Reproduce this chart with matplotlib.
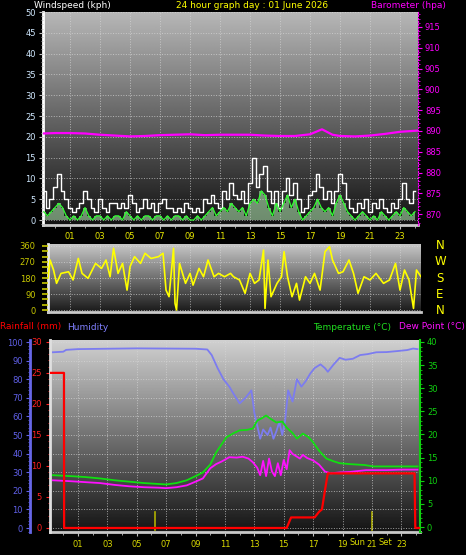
import numpy as np
import matplotlib.pyplot as plt
from matplotlib.ticker import MultipleLocator
import matplotlib.transforms as mtrans

W, H = 466, 555

# ---- wind (kph), every 15 min
wind_t = np.arange(-0.75, 24.01, 0.25)
gust = [7, 3, 5, 8, 11, 7, 5, 3, 2, 3, 4, 7, 5, 3, 2, 5, 3, 2, 4, 4,
        3, 4, 3, 6, 4, 2, 3, 5, 3, 4, 2, 4, 5, 3, 3, 2, 3, 2, 4, 3,
        2, 3, 2, 5, 4, 6, 4, 3, 7, 5, 9, 6, 5, 7, 4, 9, 15, 8, 11, 13,
        7, 4, 7, 3, 7, 10, 6, 9, 5, 2, 3, 6, 7, 11, 8, 5, 7, 4, 7, 11,
        9, 5, 3, 2, 4, 3, 5, 2, 4, 3, 5, 3, 2, 4, 3, 5, 9, 5, 4, 7]
avg = [2, 1, 2, 3, 4, 3, 1, 0, 1, 0, 1, 3, 1, 0, 1, 1, 0, 1, 0, 1,
       1, 0, 2, 1, 0, 1, 0, 1, 1, 0, 1, 1, 0, 1, 0, 1, 1, 0, 1, 0,
       0, 1, 0, 1, 2, 3, 1, 2, 3, 2, 4, 3, 2, 3, 1, 4, 5, 4, 7, 6,
       3, 1, 4, 2, 4, 6, 3, 5, 2, 0, 1, 2, 3, 5, 3, 2, 3, 1, 4, 6,
       4, 2, 1, 0, 1, 2, 1, 0, 1, 0, 2, 1, 0, 1, 2, 1, 3, 2, 1, 2]

# ---- barometer (hPa)
baro_t = [-0.8, 0, 1, 2, 3, 4, 5, 6, 7, 8, 9, 10, 11, 12, 13, 14, 15, 16, 17,
          17.8, 18.5, 19, 20, 21, 22, 23, 24.2]
baro = [889.4, 889.5, 889.5, 889.4, 889.1, 888.9, 888.7, 888.8, 889.0, 889.1,
        889.2, 889.0, 889.1, 889.1, 889.1, 888.9, 888.8, 888.8, 889.2,
        890.4, 889.1, 888.8, 888.7, 888.9, 889.3, 889.8, 890.1]

# ---- wind direction (deg)
dir_t = [-0.47, -0.33, -0.1, 0.1, 0.4, 0.9, 1.2, 1.55, 1.8, 2.2, 2.7, 3.1, 3.4,
         3.67, 3.9, 4.2, 4.5, 4.8, 5.0, 5.3, 5.7, 6.0, 6.4, 6.9, 7.2, 7.4, 7.6,
         7.9, 8.0, 8.1, 8.3, 8.7, 9.0, 9.2, 9.6, 9.9, 10.2, 10.6, 10.9, 11.3,
         11.7, 11.9, 12.3, 12.67, 13.0, 13.3, 13.6, 13.9, 14.0, 14.2, 14.4,
         14.8, 15.1, 15.27, 15.5, 15.8, 16.1, 16.3, 16.7, 17.0, 17.3, 17.67,
         18.0, 18.3, 18.5, 18.9, 19.2, 19.6, 19.9, 20.2, 20.6, 21.0, 21.4,
         21.9, 22.3, 22.7, 23.0, 23.3, 23.6, 23.9, 24.1, 24.4]
wdir = [180, 281, 225, 150, 206, 215, 169, 290, 206, 178, 262, 234, 281,
        187, 347, 206, 262, 112, 244, 300, 262, 319, 290, 300, 319, 112, 75,
        347, 37, 0, 262, 150, 206, 140, 234, 187, 281, 187, 206, 187,
        206, 187, 169, 94, 206, 150, 169, 337, 9, 281, 75,
        150, 187, 328, 187, 75, 150, 56, 187, 150, 206, 112,
        328, 356, 281, 206, 215, 281, 206, 94, 187, 169, 206,
        150, 169, 262, 112, 225, 169, 9, 225, 187]

# ---- humidity (%)
hum_t = [-0.7, 0.0, 0.2, 1, 3, 5, 7, 9, 9.8, 10.1, 10.5, 10.9, 11.3, 11.6, 12.0,
         12.4, 12.8, 13.0, 13.2, 13.4, 13.6, 13.9, 14.1, 14.3, 14.5, 14.7, 14.9,
         15.1, 15.3, 15.6, 15.9, 16.2, 16.5, 16.8, 17.1, 17.5, 17.8, 18.0, 18.4,
         18.8, 19.2, 19.7, 20.2, 20.7, 21.3, 22.0, 22.8, 23.4, 23.8, 24.1]
hum = [94.5, 94.8, 95.8, 96.2, 96.4, 96.6, 96.5, 96.4, 96.0, 93, 86, 80, 76, 72,
       67, 70, 74, 62, 55, 48, 53, 50, 54, 48, 52, 57, 50, 58, 74, 68, 80, 76,
       79, 83, 86, 88, 86, 84, 88, 91.5, 90.5, 91, 93, 93.5, 94.5, 94.6, 95.2,
       95.7, 96.5, 96.2]

# ---- temperature / dew point (C)
temp_t = [-0.7, 0.5, 1.5, 2.5, 3.5, 4.5, 5.5, 6.5, 7.0, 7.7, 8.4, 9.0, 9.5, 10.0,
          10.4, 10.8, 11.1, 11.6, 12.0, 12.5, 12.9, 13.2, 13.5, 13.8, 14.1, 14.5,
          14.9, 15.2, 15.6, 15.9, 16.3, 16.7, 17.0, 17.4, 17.9, 18.4, 18.8, 19.5,
          20.5, 21.1, 22.0, 23.0, 24.1]
temp = [11.2, 11.0, 10.8, 10.5, 10.1, 9.8, 9.5, 9.3, 9.2, 9.5, 10.1, 11.0, 11.8,
        13.5, 16.1, 18.0, 19.4, 20.3, 20.9, 21.0, 21.3, 23.0, 23.5, 24.1, 23.4,
        22.6, 22.8, 21.5, 20.3, 19.1, 20.2, 19.4, 18.3, 16.5, 14.8, 14.2, 13.8,
        13.6, 13.4, 13.1, 13.1, 13.1, 13.1]
dew_t = [-0.7, 0.5, 1.5, 2.5, 3.5, 4.5, 5.5, 6.5, 7.0, 7.7, 8.4, 9.0, 9.5, 10.0,
         10.4, 10.8, 11.3, 11.8, 12.2, 12.6, 12.9, 13.2, 13.4, 13.6, 13.8, 14.0,
         14.2, 14.4, 14.6, 14.8, 15.0, 15.2, 15.4, 15.6, 15.9, 16.1, 16.3, 16.6,
         17.0, 17.4, 17.8, 18.2, 18.8, 19.5, 20.6, 22.0, 23.0, 24.1]
dew = [10.1, 9.9, 9.7, 9.5, 9.1, 8.8, 8.6, 8.5, 8.4, 8.6, 9.0, 9.8, 10.5, 12.7,
       13.6, 14.2, 15.1, 15.0, 15.2, 14.8, 14.0, 12.8, 11.2, 14.3, 11.0, 14.8,
       12.0, 11.0, 13.8, 11.2, 14.5, 12.5, 16.6, 15.8, 15.2, 14.8, 15.6, 14.9,
       14.4, 13.5, 12.0, 11.6, 11.8, 11.9, 12.3, 12.3, 12.4, 12.4]

# ---- rainfall (mm)
rain_t = [-0.9, 0.05, 0.06, 15.2, 15.5, 17.1, 17.4, 17.6, 17.8, 18.0, 23.9, 23.95, 24.2]
rain = [25, 25, 0, 0, 1.7, 1.7, 2.6, 3.0, 6.0, 8.8, 8.8, 0, 0]

hours = list(range(1, 24, 2))
hour_labels = ['%02d' % h for h in hours]
sun_events = [6.24, 21.0]

fig = plt.figure(figsize=(W / 100, H / 100), dpi=100, facecolor='black')
plt.rcParams['font.family'] = 'DejaVu Sans'


def box(x0, y0, x1, y1):
    return fig.add_axes([x0 / W, 1 - y1 / H, (x1 - x0) / W, (y1 - y0) / H])


def shade(ax, top, bottom):
    grad = np.linspace(top, bottom, 256).reshape(-1, 1)
    ax.imshow(grad, extent=[0, 1, 0, 1], transform=ax.transAxes, aspect='auto',
              cmap='gray', vmin=0, vmax=1, zorder=0, interpolation='bilinear')


def dotgrid(ax, which='both'):
    ax.grid(True, axis=which, color='#d8d8d8', ls=':', lw=0.7, alpha=0.7)
    ax.set_axisbelow(False)


# ================= panel 1: wind + barometer
ax1 = box(43, 12, 418, 225)
shade(ax1, 0.72, 0.07)
ax1.fill_between(wind_t, 0, avg, step='mid', color='#b8f0b8', alpha=0.55, lw=0, zorder=2)
ax1.step(wind_t, gust, where='mid', color='white', lw=1.0, zorder=3)
ax1.plot(wind_t, avg, color='#30ff30', lw=0.9, zorder=4)
ax1.set_xlim(-0.8, 24.2)
ax1.set_ylim(-1.2, 50)
ax1.set_xticks(hours)
ax1.set_xticklabels(hour_labels)
ax1.xaxis.set_minor_locator(MultipleLocator(1))
ax1.yaxis.set_major_locator(MultipleLocator(5))
ax1.yaxis.set_minor_locator(MultipleLocator(1))
ax1.tick_params(axis='x', colors='#c0c0c0', labelcolor='#e8e800', labelsize=6, length=3, pad=2)
ax1.tick_params(axis='x', which='minor', colors='#c0c0c0', length=2)
ax1.tick_params(axis='y', colors='#c0c0c0', labelcolor='#d0e8ff', labelsize=6, length=3, pad=2)
ax1.tick_params(axis='y', which='minor', colors='#c0c0c0', length=1.5)
dotgrid(ax1)
for s in ['top', 'right']:
    ax1.spines[s].set_visible(False)
ax1.spines['left'].set_color('white')
ax1.spines['left'].set_linewidth(2)
ax1.spines['bottom'].set_color('#c8c8c8')
ax1.spines['bottom'].set_linewidth(2)

ax1b = ax1.twinx()
ax1b.plot(baro_t, baro, color='#ff00ff', lw=1.6, zorder=5)
ax1b.set_ylim(867.4, 918.6)
ax1b.yaxis.set_minor_locator(MultipleLocator(1))
ax1b.set_yticks(range(870, 916, 5))
ax1b.tick_params(axis='y', colors='#ff00ff', labelcolor='#ff00ff', labelsize=6, length=3, pad=2)
ax1b.tick_params(axis='y', which='minor', colors='#ff00ff', length=1.5)
for s in ['top', 'left', 'bottom']:
    ax1b.spines[s].set_visible(False)
ax1b.spines['right'].set_color('#ff00ff')
ax1b.spines['right'].set_linestyle(':')

fig.text(34 / W, 1 - 6 / H, 'Windspeed (kph)', color='white', fontsize=6.5, va='center', ha='left')
fig.text(252 / W, 1 - 6 / H, '24 hour graph day : 01 June 2026', color='#ffff00', fontsize=6.5,
         va='center', ha='center')
fig.text(446 / W, 1 - 6 / H, 'Barometer (hpa)', color='#ff00ff', fontsize=6.5, va='center', ha='right')

# ================= panel 2: wind direction
ax2 = box(48, 244, 421, 312)
shade(ax2, 0.78, 0.1)
ax2.plot(dir_t, wdir, color='#ffff00', lw=1.2, zorder=3)
ax2.set_xlim(-0.47, 24.4)
ax2.set_ylim(-11, 371)
ax2.set_yticks([0, 90, 180, 270, 360])
ax2.yaxis.set_minor_locator(MultipleLocator(30))
ax2.set_xticks(hours)
ax2.tick_params(axis='x', length=0, labelbottom=False)
ax2.tick_params(axis='y', colors='#c8c800', labelcolor='#c8c800', labelsize=6, length=4, width=1.2, pad=5)
ax2.tick_params(axis='y', which='minor', colors='#c8c800', length=4, width=1.2)
dotgrid(ax2)
for s in ['top', 'right']:
    ax2.spines[s].set_visible(False)
ax2.spines['left'].set_color('#e8e8e8')
ax2.spines['left'].set_linewidth(2)
ax2.spines['bottom'].set_color('#c8c8c8')
ax2.spines['bottom'].set_linewidth(2)
tr2 = mtrans.blended_transform_factory(ax2.transAxes, ax2.transData)
for lab, v in zip(['N', 'W', 'S', 'E', 'N'], [360, 270, 180, 90, 0]):
    ax2.text(1.051, v, lab, color='#ffff00', fontsize=8.5, ha='center', va='center',
             transform=tr2, clip_on=False)

# ================= panel 3: humidity / temperature / dew point / rain
ax3 = box(50, 340, 420, 532)
shade(ax3, 0.82, 0.08)
ax3.plot(hum_t, hum, color='#7c7cf0', lw=1.3, zorder=3)
ax3.set_xlim(-0.9, 24.27)
ax3.set_ylim(-2.15, 101.1)
ax3.set_yticks(range(0, 101, 10))
ax3.yaxis.set_minor_locator(MultipleLocator(2))
ax3.set_xticks(hours)
ax3.set_xticklabels(hour_labels)
ax3.xaxis.set_minor_locator(MultipleLocator(1))
ax3.tick_params(axis='x', colors='#c0c0c0', labelcolor='#d8d800', labelsize=6, length=3, pad=3)
ax3.tick_params(axis='x', which='minor', colors='#c0c0c0', length=2)
ax3.tick_params(axis='y', colors='#6060e8', labelcolor='#6060e8', labelsize=6, length=3, pad=2)
ax3.tick_params(axis='y', which='minor', colors='#6060e8', length=1.5)
dotgrid(ax3)
ax3.spines['left'].set_position(('axes', -20 / 370))
ax3.spines['left'].set_color('#6868e8')
ax3.spines['left'].set_linewidth(2)
ax3.spines['bottom'].set_color('#c8c8c8')
ax3.spines['bottom'].set_linewidth(2)
for s in ['top', 'right']:
    ax3.spines[s].set_visible(False)
for h in sun_events:
    ax3.axvline(h, ymin=0.01, ymax=0.105, color='#b0b000', lw=1.2, zorder=2)
# "Sun Set" marker text wraps the 21 label
trx = mtrans.blended_transform_factory(ax3.transData, ax3.transAxes)
ax3.text(20.55, -0.057, 'Sun', color='#d8d800', fontsize=6, ha='right', va='center',
         transform=trx, clip_on=False)
ax3.text(21.45, -0.057, 'Set', color='#d8d800', fontsize=6, ha='left', va='center',
         transform=trx, clip_on=False)

ax3t = ax3.twinx()
ax3t.plot(temp_t, temp, color='#10e010', lw=1.3, zorder=3)
ax3t.plot(dew_t, dew, color='#ff10ff', lw=1.3, zorder=4)
ax3t.set_ylim(-1.08, 40.43)
ax3t.set_yticks(range(0, 41, 5))
ax3t.yaxis.set_minor_locator(MultipleLocator(1))
ax3t.tick_params(axis='y', colors='#10d010', labelcolor='#10d010', labelsize=6, length=3, pad=2)
ax3t.tick_params(axis='y', which='minor', colors='#10d010', length=1.5)
for s in ['top', 'left', 'bottom']:
    ax3t.spines[s].set_visible(False)
ax3t.spines['right'].set_color('#10d010')
ax3t.spines['right'].set_linewidth(1.5)

ax3r = ax3.twinx()
ax3r.plot(rain_t, rain, color='#ff0000', lw=1.6, zorder=5)
ax3r.set_ylim(-0.65, 30.3)
ax3r.set_yticks(range(0, 31, 5))
ax3r.yaxis.set_minor_locator(MultipleLocator(1))
ax3r.yaxis.tick_left()
ax3r.tick_params(axis='y', colors='#ff2020', labelcolor='#ff2020', labelsize=6, length=3, pad=3)
ax3r.tick_params(axis='y', which='minor', colors='#ff2020', length=1.5)
for s in ['top', 'right', 'bottom']:
    ax3r.spines[s].set_visible(False)
ax3r.spines['left'].set_visible(True)
ax3r.spines['left'].set_color('#e0e0e0')
ax3r.spines['left'].set_linewidth(2)

fig.text(0 / W, 1 - 327 / H, 'Rainfall (mm)', color='#ff0000', fontsize=6.5, va='center', ha='left')
fig.text(67 / W, 1 - 327 / H, 'Humidity', color='#8080ff', fontsize=6.5, va='center', ha='left')
fig.text(313 / W, 1 - 327 / H, 'Temperature (\u00b0C)', color='#20e020', fontsize=6.5, va='center', ha='left')
fig.text(465 / W, 1 - 327 / H, 'Dew Point (\u00b0C)', color='#ff10ff', fontsize=6.5, va='center', ha='right')

fig.savefig('out.png', dpi=100, facecolor='black')
